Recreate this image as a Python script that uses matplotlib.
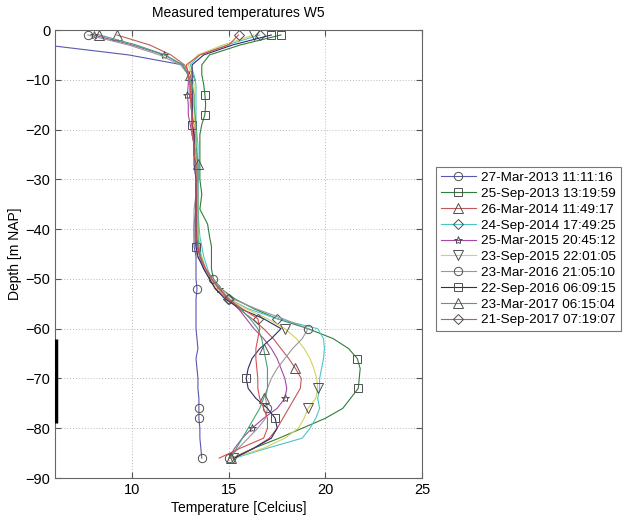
import matplotlib
matplotlib.use("Agg")
import matplotlib.pyplot as plt

plt.rcParams['font.family'] = ['Liberation Sans', 'DejaVu Sans']

depth = [-1, -3, -5, -7, -9, -11, -13, -15, -17, -19, -21, -23, -25, -27, -30, -33, -36, -39,
         -41.5, -43.5, -45.5, -48, -50, -52, -54, -56, -58, -60, -62, -64, -66, -68, -70, -72,
         -74, -76, -78, -80, -82, -84, -86]

labels = ['27-Mar-2013 11:11:16', '25-Sep-2013 13:19:59', '26-Mar-2014 11:49:17',
          '24-Sep-2014 17:49:25', '25-Mar-2015 20:45:12', '23-Sep-2015 22:01:05',
          '23-Mar-2016 21:05:10', '22-Sep-2016 06:09:15', '23-Mar-2017 06:15:04',
          '21-Sep-2017 07:19:07']

t_2013_03 = [1.5, 5.5, 9.8, 12.6, 12.9, 13.0, 13.0, 13.1, 13.1, 13.1, 13.2, 13.2, 13.3, 13.4, 13.4,
             13.3, 13.3, 13.2, 13.2, 13.2, 13.3, 13.3, 13.3, 13.35, 13.3, 13.3, 13.3, 13.3, 13.35,
             13.4, 13.3, 13.35, 13.4, 13.4, 13.45, 13.45, 13.45, 13.5, 13.5, 13.55, 13.6]
t_2013_09 = [17.7, 15.6, 14.0, 13.6, 13.6, 13.7, 13.76, 13.8, 13.76, 13.6, 13.5, 13.5, 13.5, 13.5,
             13.5, 13.6, 13.5, 13.9, 14.0, 14.1, 14.1, 14.1, 14.2, 14.6, 15.3, 16.3, 17.5, 19.1,
             20.4, 21.2, 21.65, 21.8, 21.75, 21.7, 21.3, 20.9, 20.0, 18.8, 17.6, 16.3, 15.2]
t_2014_03 = [9.2, 10.9, 12.0, 12.7, 13.0, 13.1, 13.1, 13.1, 13.1, 13.2, 13.2, 13.2, 13.3, 13.3,
             13.3, 13.3, 13.3, 13.3, 13.35, 13.4, 13.5, 13.7, 14.0, 14.3, 14.9, 15.5, 16.2, 16.8,
             17.3, 17.7, 18.1, 18.45, 18.75, 18.7, 18.4, 18.1, 17.8, 17.5, 17.1, 16.3, 15.2]
t_2014_09 = [16.6, 14.9, 13.5, 13.0, 13.2, 13.3, 13.3, 13.3, 13.3, 13.3, 13.35, 13.4, 13.4, 13.4,
             13.4, 13.4, 13.4, 13.45, 13.5, 13.6, 13.7, 13.9, 14.1, 14.5, 15.0, 16.0, 17.5, 19.6,
             19.9, 19.95, 19.9, 19.8, 19.7, 19.7, 19.6, 19.7, 19.5, 19.2, 18.8, 17.0, 15.3]
t_2015_03 = [8.0, 10.0, 11.65, 12.6, 12.9, 12.9, 12.85, 12.9, 12.9, 13.0, 13.1, 13.2, 13.2, 13.3,
             13.3, 13.3, 13.3, 13.3, 13.3, 13.35, 13.5, 13.8, 14.1, 14.5, 15.0, 15.5, 15.9, 16.3,
             16.8, 17.2, 17.5, 17.7, 17.9, 18.0, 17.9, 17.5, 16.8, 16.2, 15.7, 15.3, 15.0]
t_2015_09 = [16.3, 14.7, 13.4, 12.9, 13.1, 13.2, 13.2, 13.2, 13.2, 13.25, 13.3, 13.3, 13.3, 13.3,
             13.35, 13.4, 13.4, 13.4, 13.45, 13.5, 13.6, 13.8, 14.0, 14.4, 15.0, 15.9, 17.0, 17.9,
             18.5, 18.9, 19.2, 19.4, 19.55, 19.6, 19.5, 19.1, 18.9, 18.6, 17.9, 16.8, 15.2]
t_2016_03 = [7.7, 9.8, 11.4, 12.5, 12.9, 13.0, 13.0, 13.0, 13.1, 13.1, 13.1, 13.2, 13.2, 13.3,
             13.3, 13.3, 13.2, 13.2, 13.2, 13.3, 13.35, 13.8, 14.2, 14.6, 15.2, 16.4, 17.8, 19.1,
             18.8, 18.3, 17.9, 17.5, 17.2, 17.0, 16.9, 17.0, 16.9, 16.5, 16.0, 15.5, 15.0]
t_2016_09 = [17.2, 15.2, 13.7, 13.1, 13.1, 13.1, 13.1, 13.1, 13.1, 13.1, 13.2, 13.2, 13.2, 13.2,
             13.3, 13.3, 13.3, 13.3, 13.3, 13.3, 13.4, 13.7, 14.0, 14.3, 14.8, 15.6, 16.8, 17.7,
             17.2, 16.6, 16.2, 16.0, 15.9, 16.0, 16.4, 17.0, 17.4, 17.5, 17.2, 16.3, 15.3]
t_2017_03 = [8.3, 10.2, 11.7, 12.6, 12.9, 13.1, 13.2, 13.2, 13.25, 13.3, 13.3, 13.3, 13.35, 13.4,
             13.4, 13.4, 13.4, 13.4, 13.4, 13.45, 13.55, 13.8, 14.1, 14.5, 15.0, 15.6, 16.1, 16.5,
             16.7, 16.8, 16.9, 17.0, 17.0, 17.0, 16.8, 16.6, 16.3, 16.0, 15.7, 15.4, 15.1]
t_2017_09 = [15.5, 15.0, 13.5, 12.8, 12.9, 13.0, 13.0, 13.05, 13.1, 13.1, 13.1, 13.2, 13.2, 13.3,
             13.3, 13.3, 13.3, 13.3, 13.3, 13.4, 13.5, 13.8, 14.1, 14.5, 14.95, 15.7, 16.5, 16.6,
             16.5, 16.4, 16.4, 16.45, 16.5, 16.5, 16.6, 16.8, 17.0, 17.0, 16.8, 15.6, 14.5]

series = [t_2013_03, t_2013_09, t_2014_03, t_2014_09, t_2015_03,
          t_2015_09, t_2016_03, t_2016_09, t_2017_03, t_2017_09]
colors = ['#5858b0', '#2f7f3a', '#c05a5a', '#4cc4cc', '#a548a5',
          '#d6d060', '#989898', '#2c2c6c', '#40a878', '#d85050']
markers = ['o', 's', '^', 'D', '*', 'v', 'o', 's', '^', 'D']
marker_idx = [[0, 23, 35, 36, 40], [0, 6, 8, 30, 33], [0, 4, 31], [0, 24, 26],
              [0, 2, 6, 23, 34, 37], [0, 27, 33, 35, 40], [0, 22, 27, 35, 40],
              [0, 9, 19, 32, 36], [0, 13, 29, 34, 40], [0, 24, 26]]
marker_size = [6, 5.5, 6.5, 5, 6, 6.5, 6, 5.5, 6.5, 5]

fig = plt.figure(figsize=(6.24, 5.18), dpi=100)
ax = fig.add_axes([55/624, 1-478/518, (422-55)/624, (478-30)/518])

for t, c, m, mi, ms, lab in zip(series, colors, markers, marker_idx, marker_size, labels):
    ax.plot(t, depth, color=c, lw=0.8, marker=m, markevery=mi, ms=ms,
            mfc='none', mec='#505050', mew=0.7, label=lab)

# screen (filter) indicator
ax.plot([6.05, 6.05], [-62, -79], color='black', lw=2.5, solid_capstyle='butt', zorder=5)

ax.set_xlim(6, 25)
ax.set_ylim(-90, 0)
ax.set_xticks([10, 15, 20, 25])
ax.set_yticks(list(range(-90, 1, 10)))
ax.tick_params(direction='in', length=4, labelsize=10.5, color='#555555', top=True, right=True)
ax.grid(True, linestyle=(0, (1, 2)), color='#b8b8b8', lw=0.7)
for s in ax.spines.values():
    s.set_color('#666666')
    s.set_linewidth(0.8)

ax.set_title('Measured temperatures W5', fontsize=10, pad=9)
ax.set_xlabel('Temperature [Celcius]', fontsize=10, labelpad=3)
ax.set_ylabel('Depth [m NAP]', fontsize=10, labelpad=2)

leg = fig.legend(loc='upper left', bbox_to_anchor=(436/624, 1-167/518), fontsize=9.7,
                 frameon=True, fancybox=False, edgecolor='#555555', handlelength=2.6,
                 borderpad=0.35, labelspacing=0.25, handletextpad=0.4, borderaxespad=0)
leg.get_frame().set_linewidth(0.8)

fig.savefig('out.png', dpi=100)
